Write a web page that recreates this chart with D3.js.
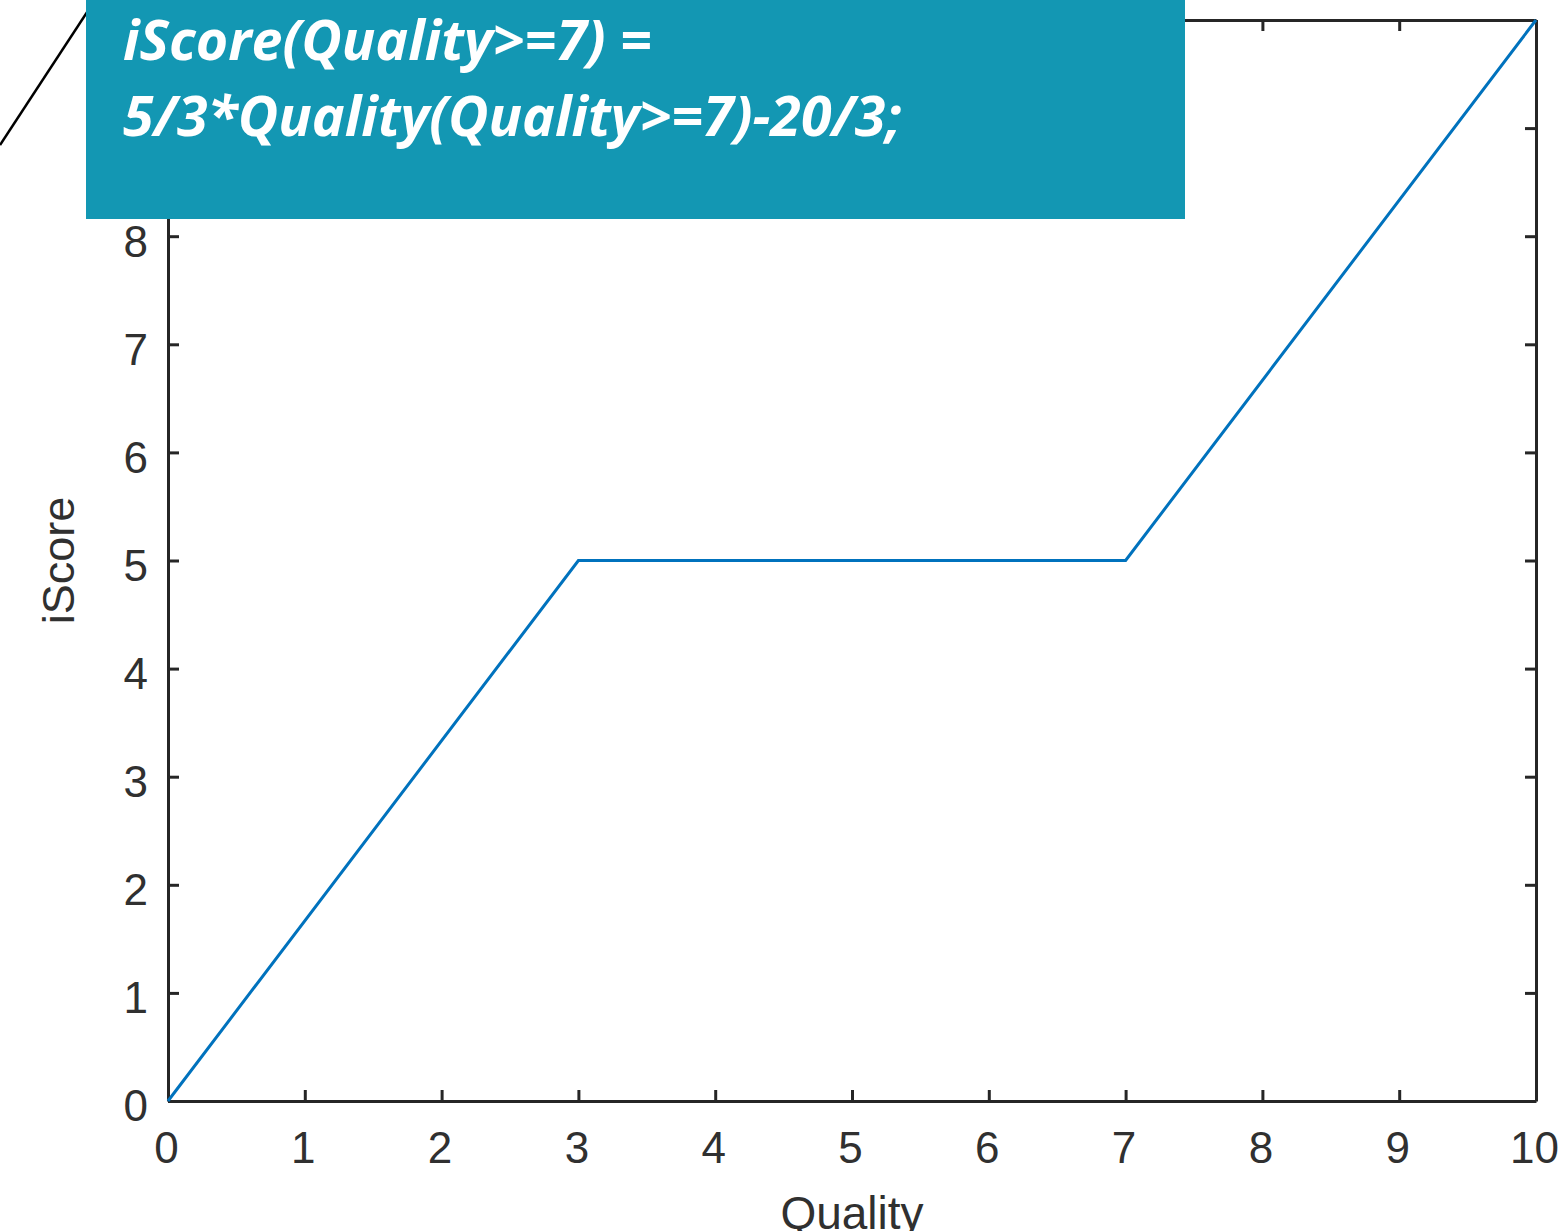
<!DOCTYPE html>
<meta charset="utf-8">
<style>
  body { margin: 0; background: #fff; }
  .axis text { font-family: "Liberation Sans", Arial, sans-serif; font-size: 44px; fill: #303030; }
  .axis path, .axis line { stroke: #262626; stroke-width: 3px; }
  .line { fill: none; stroke: #0072BD; stroke-width: 3px; }
  .banner text { font-family: "Open Sans", sans-serif; font-weight: bold; font-style: italic; fill: #fff; }
</style>
<body>
<script src="https://d3js.org/d3.v7.min.js"></script>
<script>
// breakpoints of the iScore curve
var quality = [0, 3, 7, 10];
var iscore = [0, 5, 5, 10];
var xTicks = [0, 1, 2, 3, 4, 5, 6, 7, 8, 9, 10];
var yTicks = [0, 1, 2, 3, 4, 5, 6, 7, 8, 9, 10];
var bannerLines = ["iScore(Quality>=7) =", "5/3*Quality(Quality>=7)-20/3;"];

var W = 1562, H = 1231;
var margin = {top: 20, right: 26, bottom: 130, left: 168},
    width = 1536 - margin.left,
    height = 1101 - margin.top;

var x = d3.scaleLinear().domain([0, 10]).range([0, width]);
var y = d3.scaleLinear().domain([0, 10]).range([height, 0]);

var svg = d3.select("body").append("svg")
    .attr("width", W)
    .attr("height", H);

var g = svg.append("g")
    .attr("transform", "translate(" + margin.left + "," + margin.top + ")");

// bottom / left axes with inward ticks
g.append("g")
    .attr("class", "axis")
    .attr("transform", "translate(0," + height + ")")
    .call(d3.axisBottom(x).tickValues(xTicks).tickSizeInner(-11).tickSizeOuter(0).tickPadding(31))
  .selectAll("text")
    .attr("dx", "-2");
g.append("g")
    .attr("class", "axis")
    .call(d3.axisLeft(y).tickValues(yTicks).tickSizeInner(-11).tickSizeOuter(0).tickPadding(20))
  .selectAll("text")
    .attr("dy", "0.45em");
// top / right box edges
g.append("g")
    .attr("class", "axis")
    .call(d3.axisTop(x).tickValues(xTicks).tickSizeInner(-11).tickSizeOuter(0).tickFormat(""));
g.append("g")
    .attr("class", "axis")
    .attr("transform", "translate(" + width + ",0)")
    .call(d3.axisRight(y).tickValues(yTicks).tickSizeInner(-11).tickSizeOuter(0).tickFormat(""));

var line = d3.line()
    .x(function(d, i) { return x(d); })
    .y(function(d, i) { return y(iscore[i]); });
g.append("path")
    .datum(quality)
    .attr("class", "line")
    .attr("d", line);

// axis titles
g.append("text")
    .attr("x", width / 2)
    .attr("y", height + 128)
    .attr("text-anchor", "middle")
    .style("font", "46px 'Liberation Sans', Arial, sans-serif")
    .style("fill", "#303030")
    .text("Quality");
g.append("text")
    .attr("transform", "translate(-94," + height / 2 + ") rotate(-90)")
    .attr("text-anchor", "middle")
    .style("font", "45px 'Liberation Sans', Arial, sans-serif")
    .style("fill", "#303030")
    .text("iScore");

// overlay: diagonal stroke and teal banner
svg.append("line")
    .attr("x1", 0).attr("y1", 145)
    .attr("x2", 95).attr("y2", 0)
    .attr("stroke", "#000")
    .attr("stroke-width", 2.5);

var banner = svg.append("g").attr("class", "banner");
banner.append("rect")
    .attr("x", 86).attr("y", 0)
    .attr("width", 1099).attr("height", 219)
    .attr("fill", "#1397B3");
banner.selectAll("text")
    .data(bannerLines)
  .enter().append("text")
    .attr("x", 123)
    .attr("y", function(d, i) { return 60 + i * 76; })
    .style("font-size", "55.5px")
    .text(function(d) { return d; });
</script>
</body>
